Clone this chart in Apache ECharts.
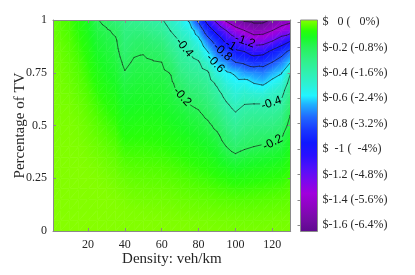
<!DOCTYPE html>
<html><head><meta charset="utf-8">
<script src="https://cdn.jsdelivr.net/npm/echarts@6/dist/echarts.min.js"></script>
<style>html,body{margin:0;padding:0;background:#fff}#c{width:415px;height:275px}</style>
</head><body><div id="c"></div>
<script>
// ---------------- data ----------------
const densities = [1,5,10,15,20,25,30,35,40,45,50,55,60,65,70,75,80,85,90,95,100,105,110,115,120,125,130];
const tvShares = [0,0.05,0.1,0.15,0.2,0.25,0.3,0.35,0.4,0.45,0.5,0.55,0.6,0.65,0.7,0.75,0.8,0.85,0.9,0.95,1];
// cost change ($) : one profile per density, listed over tvShares (0 -> 1)
const costColumns = [
 [0.014,0.014,0.013,0.013,0.012,0.012,0.012,0.011,0.011,0.010,0.010,0.009,0.008,0.007,0.006,0.004,0.002,0.000,-0.005,-0.010,-0.015],
 [0.014,0.014,0.013,0.013,0.012,0.012,0.012,0.011,0.010,0.009,0.008,0.006,0.004,0.002,0.000,-0.003,-0.007,-0.012,-0.018,-0.024,-0.030],
 [0.014,0.014,0.013,0.013,0.013,0.012,0.012,0.011,0.010,0.009,0.008,0.005,0.002,-0.003,-0.010,-0.015,-0.020,-0.027,-0.033,-0.040,-0.045],
 [0.014,0.014,0.013,0.013,0.013,0.013,0.013,0.010,0.008,0.005,0.002,-0.003,-0.010,-0.018,-0.025,-0.032,-0.040,-0.050,-0.060,-0.070,-0.080],
 [0.014,0.014,0.013,0.013,0.013,0.013,0.010,0.006,0.002,-0.004,-0.010,-0.018,-0.027,-0.036,-0.046,-0.056,-0.068,-0.080,-0.093,-0.107,-0.120],
 [0.014,0.014,0.013,0.013,0.013,0.010,0.006,0.000,-0.008,-0.017,-0.027,-0.038,-0.050,-0.063,-0.077,-0.092,-0.108,-0.126,-0.145,-0.168,-0.195],
 [0.014,0.013,0.013,0.013,0.010,0.005,-0.002,-0.010,-0.020,-0.031,-0.043,-0.056,-0.070,-0.085,-0.100,-0.116,-0.133,-0.151,-0.170,-0.190,-0.225],
 [0.013,0.013,0.013,0.010,0.005,-0.002,-0.010,-0.020,-0.032,-0.045,-0.058,-0.072,-0.087,-0.103,-0.120,-0.138,-0.157,-0.176,-0.190,-0.215,-0.270],
 [0.012,0.012,0.010,0.005,-0.002,-0.012,-0.025,-0.040,-0.056,-0.073,-0.090,-0.108,-0.127,-0.147,-0.168,-0.195,-0.220,-0.245,-0.265,-0.280,-0.300],
 [0.012,0.011,0.008,0.000,-0.008,-0.018,-0.030,-0.043,-0.057,-0.072,-0.088,-0.104,-0.120,-0.137,-0.154,-0.172,-0.190,-0.212,-0.240,-0.275,-0.320],
 [0.012,0.010,0.006,-0.002,-0.010,-0.020,-0.032,-0.045,-0.058,-0.072,-0.087,-0.102,-0.118,-0.134,-0.150,-0.168,-0.188,-0.205,-0.235,-0.280,-0.340],
 [0.012,0.010,0.005,-0.003,-0.012,-0.022,-0.034,-0.047,-0.060,-0.075,-0.090,-0.106,-0.122,-0.139,-0.157,-0.176,-0.195,-0.220,-0.260,-0.310,-0.370],
 [0.011,0.009,0.004,-0.004,-0.013,-0.024,-0.036,-0.050,-0.064,-0.079,-0.095,-0.110,-0.126,-0.143,-0.160,-0.180,-0.200,-0.235,-0.280,-0.335,-0.390],
 [0.010,0.008,0.003,-0.006,-0.016,-0.028,-0.041,-0.056,-0.072,-0.089,-0.107,-0.126,-0.145,-0.164,-0.184,-0.205,-0.250,-0.300,-0.350,-0.405,-0.460],
 [0.010,0.007,0.000,-0.010,-0.021,-0.034,-0.048,-0.064,-0.081,-0.100,-0.120,-0.142,-0.167,-0.200,-0.240,-0.285,-0.325,-0.365,-0.405,-0.460,-0.520],
 [0.009,0.006,-0.002,-0.013,-0.026,-0.040,-0.056,-0.073,-0.092,-0.113,-0.137,-0.166,-0.200,-0.240,-0.280,-0.320,-0.360,-0.400,-0.450,-0.520,-0.620],
 [0.008,0.004,-0.005,-0.017,-0.031,-0.047,-0.064,-0.083,-0.104,-0.127,-0.153,-0.183,-0.218,-0.260,-0.300,-0.345,-0.390,-0.460,-0.550,-0.680,-0.840],
 [0.007,0.003,-0.007,-0.020,-0.036,-0.054,-0.073,-0.095,-0.120,-0.148,-0.180,-0.220,-0.260,-0.300,-0.340,-0.385,-0.480,-0.600,-0.730,-0.900,-1.080],
 [0.006,0.001,-0.010,-0.025,-0.043,-0.064,-0.088,-0.115,-0.145,-0.180,-0.225,-0.270,-0.315,-0.360,-0.420,-0.520,-0.640,-0.750,-0.880,-1.060,-1.260],
 [0.005,0.000,-0.012,-0.028,-0.048,-0.072,-0.105,-0.150,-0.200,-0.245,-0.290,-0.335,-0.385,-0.440,-0.510,-0.580,-0.700,-0.840,-1.040,-1.200,-1.430],
 [0.004,-0.002,-0.015,-0.032,-0.055,-0.085,-0.125,-0.180,-0.240,-0.290,-0.335,-0.385,-0.440,-0.500,-0.555,-0.620,-0.800,-0.960,-1.130,-1.320,-1.550],
 [0.004,-0.003,-0.016,-0.033,-0.055,-0.082,-0.115,-0.160,-0.215,-0.260,-0.305,-0.350,-0.400,-0.470,-0.550,-0.680,-0.830,-1.000,-1.200,-1.400,-1.630],
 [0.004,-0.003,-0.016,-0.032,-0.052,-0.078,-0.108,-0.148,-0.200,-0.245,-0.290,-0.340,-0.395,-0.490,-0.600,-0.700,-0.880,-1.080,-1.280,-1.480,-1.650],
 [0.004,-0.003,-0.015,-0.030,-0.050,-0.075,-0.104,-0.140,-0.190,-0.240,-0.290,-0.340,-0.395,-0.500,-0.620,-0.720,-0.860,-1.060,-1.270,-1.470,-1.650],
 [0.004,-0.002,-0.014,-0.028,-0.047,-0.070,-0.098,-0.132,-0.180,-0.235,-0.285,-0.335,-0.390,-0.460,-0.560,-0.660,-0.800,-0.960,-1.200,-1.400,-1.580],
 [0.004,-0.001,-0.012,-0.025,-0.043,-0.065,-0.090,-0.120,-0.160,-0.210,-0.260,-0.310,-0.370,-0.430,-0.510,-0.610,-0.720,-0.870,-1.100,-1.320,-1.500],
 [0.005,0.000,-0.010,-0.020,-0.033,-0.048,-0.066,-0.087,-0.110,-0.135,-0.163,-0.195,-0.240,-0.290,-0.340,-0.400,-0.600,-0.750,-1.000,-1.280,-1.450]
];
const xTickValues = [20,40,60,80,100,120];
const yTickValues = [0,0.25,0.5,0.75,1];
const contourLevels = [-0.2,-0.4,-0.6,-0.8,-1,-1.2,-1.4,-1.6];
const colorbarTicks = [0,-0.2,-0.4,-0.6,-0.8,-1,-1.2,-1.4,-1.6];
const colorbarRange = [-1.65, 0.016];
// contour label anchors: [level, density, tv share]
const contourLabelAnchors = [
 [-0.2, 70.9, 0.635], [-0.2, 120.2, 0.42],
 [-0.4, 72.5, 0.872], [-0.4, 119.6, 0.607],
 [-0.6, 87.7, 0.787], [-0.8, 92.5, 0.844],
 [-1, 96.9, 0.872], [-1.2, 106, 0.915]
];

// ---------------- styling ----------------
const cmapStops = [
 [-1.65,'#5e0a8e'],[-1.55,'#760ca6'],[-1.45,'#8e04c2'],[-1.35,'#a000dc'],[-1.25,'#7a08ee'],
 [-1.15,'#5010fa'],[-1.05,'#2810ff'],[-0.95,'#1018ff'],[-0.85,'#1838ff'],[-0.75,'#2068ff'],
 [-0.65,'#20b0ff'],[-0.58,'#22f4ff'],[-0.5,'#2cf0d8'],[-0.4,'#30f0b0'],[-0.3,'#30f088'],
 [-0.2,'#28f25a'],[-0.12,'#18fb24'],[-0.07,'#28ff08'],[-0.035,'#50ff00'],[0,'#74ff00'],
 [0.016,'#88ff00']
];
const hex = h => [parseInt(h.slice(1,3),16),parseInt(h.slice(3,5),16),parseInt(h.slice(5,7),16)];
const cmapRGB = cmapStops.map(s => [s[0], hex(s[1])]);
function colorAt(v){
  if (v <= cmapRGB[0][0]) return 'rgb(' + cmapRGB[0][1].join(',') + ')';
  const n = cmapRGB.length;
  if (v >= cmapRGB[n-1][0]) return 'rgb(' + cmapRGB[n-1][1].join(',') + ')';
  for (let k = 0; k < n-1; k++){
    const a = cmapRGB[k], b = cmapRGB[k+1];
    if (v >= a[0] && v <= b[0]){
      const f = (v - a[0]) / (b[0] - a[0]);
      const c = a[1].map((x,i) => Math.round(x + f*(b[1][i]-x)));
      return 'rgb(' + c.join(',') + ')';
    }
  }
}
function triFill(p0,p1,p2,v0,v1,v2){
  const x1=p1[0]-p0[0], y1=p1[1]-p0[1], x2=p2[0]-p0[0], y2=p2[1]-p0[1];
  const d1=v1-v0, d2=v2-v0;
  const det = x1*y2 - y1*x2;
  const vmin=Math.min(v0,v1,v2), vmax=Math.max(v0,v1,v2);
  if (Math.abs(det) < 1e-9 || vmax - vmin < 1e-7) return colorAt((v0+v1+v2)/3);
  const a = (d1*y2 - y1*d2)/det, b = (x1*d2 - x2*d1)/det;
  const g2 = a*a + b*b;
  if (g2 < 1e-14) return colorAt(v0);
  const sx = p0[0] + (vmin-v0)*a/g2, sy = p0[1] + (vmin-v0)*b/g2;
  const ex = p0[0] + (vmax-v0)*a/g2, ey = p0[1] + (vmax-v0)*b/g2;
  const stops = [{offset:0, color:colorAt(vmin)}];
  for (const s of cmapStops){ if (s[0] > vmin && s[0] < vmax) stops.push({offset:(s[0]-vmin)/(vmax-vmin), color:s[1]}); }
  stops.push({offset:1, color:colorAt(vmax)});
  return new echarts.graphic.LinearGradient(sx, sy, ex, ey, stops, true);
}

// ---------------- grid cells & triangles ----------------
const V = (i,j) => costColumns[i][j];
const cells = [];
const tris = [];
for (let i = 0; i < densities.length-1; i++){
  for (let j = 0; j < tvShares.length-1; j++){
    cells.push([densities[i], densities[i+1], tvShares[j], tvShares[j+1], V(i,j), V(i+1,j), V(i,j+1), V(i+1,j+1)]);
    const A=[densities[i],tvShares[j],V(i,j)], B=[densities[i+1],tvShares[j],V(i+1,j)];
    const C=[densities[i+1],tvShares[j+1],V(i+1,j+1)], D=[densities[i],tvShares[j+1],V(i,j+1)];
    tris.push([A,B,C],[A,C,D]);
  }
}
// contour segments (marching triangles)
const segments = [];
for (const L of contourLevels){
  for (const t of tris){
    const pts = [];
    for (let k = 0; k < 3; k++){
      const P = t[k], Q = t[(k+1)%3];
      if ((P[2] >= L) !== (Q[2] >= L)){
        const f = (L - P[2]) / (Q[2] - P[2]);
        pts.push([P[0] + f*(Q[0]-P[0]), P[1] + f*(Q[1]-P[1])]);
      }
    }
    if (pts.length === 2) segments.push([pts[0][0],pts[0][1],pts[1][0],pts[1][1],L]);
  }
}
// label placement
const SX = 237.7/129, SY = 211;
const measureCtx = document.createElement('canvas').getContext('2d');
const labelFont = '12px "Liberation Sans"';
measureCtx.font = labelFont;
const placedLabels = contourLabelAnchors.map(([L,tx,ty]) => {
  let best = [tx,ty], bd = Infinity;
  for (const s of segments){
    if (s[4] !== L) continue;
    const ax=s[0]*SX, ay=s[1]*SY, bx=s[2]*SX, by=s[3]*SY, px=tx*SX, py=ty*SY;
    const dx=bx-ax, dy=by-ay, len2=dx*dx+dy*dy || 1e-9;
    let u=((px-ax)*dx+(py-ay)*dy)/len2; u=Math.max(0,Math.min(1,u));
    const cx=ax+u*dx, cy=ay+u*dy, d=(cx-px)*(cx-px)+(cy-py)*(cy-py);
    if (d < bd){ bd = d; best = [cx/SX, cy/SY]; }
  }
  let vx=0, vy=0, ref=null;
  for (const s of segments){
    if (s[4] !== L) continue;
    const mx=((s[0]+s[2])/2 - best[0])*SX, my=((s[1]+s[3])/2 - best[1])*SY;
    if (mx*mx + my*my < 13*13){
      let dx=(s[2]-s[0])*SX, dy=(s[3]-s[1])*SY;
      if (ref === null) ref=[dx,dy]; else if (dx*ref[0]+dy*ref[1] < 0){ dx=-dx; dy=-dy; }
      vx+=dx; vy+=dy;
    }
  }
  const text = String(L);
  return {L, x:best[0], y:best[1], dx:vx/SX, dy:vy/SY, text, r: measureCtx.measureText(text).width/2 + 1.5};
});

function cutPieces(P, Q, C, r, pieces){
  const dx=Q[0]-P[0], dy=Q[1]-P[1];
  const fx=P[0]-C[0], fy=P[1]-C[1];
  const a=dx*dx+dy*dy, b=2*(fx*dx+fy*dy), c=fx*fx+fy*fy-r*r;
  const disc=b*b-4*a*c;
  if (a < 1e-12 || disc <= 0) return pieces;
  const sq=Math.sqrt(disc), t1=(-b-sq)/(2*a), t2=(-b+sq)/(2*a);
  const out=[];
  for (const [s0,s1] of pieces){
    if (t2 <= s0 || t1 >= s1){ out.push([s0,s1]); continue; }
    if (t1 > s0) out.push([s0, t1]);
    if (t2 < s1) out.push([t2, s1]);
  }
  return out;
}

const axisGray = '#8a8a8a';
const textColor = '#262626';
const serif = 'Liberation Serif';
const fmt = v => String(parseFloat(v.toFixed(2)));

const chart = echarts.init(document.getElementById('c'), null, {renderer:'canvas'});
chart.setOption({
  animation: false,
  backgroundColor: '#fff',
  textStyle: {fontFamily: serif},
  grid: [
    {left:53, top:20, width:237.7, height:211, containLabel:false, outerBoundsMode:'none'},
    {left:300.5, top:20, width:17, height:211.5, containLabel:false, outerBoundsMode:'none'}
  ],
  xAxis: [
    {gridIndex:0, type:'value', min:1, max:130, position:'bottom', z:10,
     axisLine:{show:true, onZero:false, lineStyle:{color:axisGray, width:1}},
     axisTick:{show:true, inside:true, length:3, customValues:xTickValues, lineStyle:{color:axisGray}},
     axisLabel:{customValues:xTickValues, margin:8, color:textColor, fontFamily:serif, fontSize:12},
     splitLine:{show:false},
     name:'Density: veh/km', nameLocation:'middle', nameGap:21, nameMoveOverlap:false,
     nameTextStyle:{color:textColor, fontFamily:serif, fontSize:15}},
    {gridIndex:0, type:'value', min:1, max:130, position:'top', z:10,
     axisLine:{show:true, onZero:false, lineStyle:{color:axisGray, width:1}},
     axisTick:{show:true, inside:true, length:3, customValues:xTickValues, lineStyle:{color:axisGray}},
     axisLabel:{show:false}, splitLine:{show:false}},
    {gridIndex:1, type:'value', min:0, max:1, show:false}
  ],
  yAxis: [
    {gridIndex:0, type:'value', min:0, max:1, interval:0.25, position:'left', z:10,
     axisLine:{show:true, onZero:false, lineStyle:{color:axisGray, width:1}},
     axisTick:{show:true, inside:true, length:3, lineStyle:{color:axisGray}},
     axisLabel:{margin:6, color:textColor, fontFamily:serif, fontSize:12},
     splitLine:{show:false},
     name:'Percentage of TV', nameLocation:'middle', nameGap:25, nameRotate:90, nameMoveOverlap:false,
     nameTextStyle:{color:textColor, fontFamily:serif, fontSize:15}},
    {gridIndex:0, type:'value', min:0, max:1, interval:0.25, position:'right', z:10,
     axisLine:{show:true, onZero:false, lineStyle:{color:axisGray, width:1}},
     axisTick:{show:true, inside:true, length:3, lineStyle:{color:axisGray}},
     axisLabel:{show:false}, splitLine:{show:false}},
    {gridIndex:1, type:'value', min:colorbarRange[0], max:colorbarRange[1], position:'right', z:10,
     axisLine:{show:false},
     axisTick:{show:true, inside:true, length:3, customValues:colorbarTicks, lineStyle:{color:axisGray}},
     axisLabel:{customValues:colorbarTicks, margin:5, color:textColor, fontFamily:serif, fontSize:12,
       formatter: v => '$' + fmt(v).padStart(4,' ') + ' (' + fmt(v*4).padStart(4,' ') + '%)'},
     splitLine:{show:false}}
  ],
  series: [
    {type:'custom', name:'surface', xAxisIndex:0, yAxisIndex:0, clip:true, z:1, silent:true,
     encode:{x:[0,1], y:[2,3]},
     data: cells,
     renderItem: (params, api) => {
       const c = cells[params.dataIndex];
       const p00=api.coord([c[0],c[2]]), p10=api.coord([c[1],c[2]]), p01=api.coord([c[0],c[3]]), p11=api.coord([c[1],c[3]]);
       const f1 = triFill(p00,p10,p11,c[4],c[5],c[7]);
       const f2 = triFill(p00,p11,p01,c[4],c[7],c[6]);
       return {type:'group', children:[
         {type:'polygon', shape:{points:[p00,p10,p11]}, style:{fill:f1, stroke:f1, lineWidth:0.6}},
         {type:'polygon', shape:{points:[p00,p11,p01]}, style:{fill:f2, stroke:f2, lineWidth:0.6}}
       ]};
     }},
    {type:'custom', name:'contours', xAxisIndex:0, yAxisIndex:0, clip:true, z:3, silent:true,
     encode:{x:[0,2], y:[1,3]},
     data: segments,
     renderItem: (params, api) => {
       const s = segments[params.dataIndex];
       const P=api.coord([s[0],s[1]]), Q=api.coord([s[2],s[3]]);
       let pieces=[[0,1]];
       for (const lab of placedLabels){
         if (lab.L !== s[4]) continue;
         pieces = cutPieces(P, Q, api.coord([lab.x, lab.y]), lab.r, pieces);
       }
       const dx=Q[0]-P[0], dy=Q[1]-P[1];
       return {type:'group', children: pieces.map(([t0,t1]) => ({type:'line',
         shape:{x1:P[0]+t0*dx, y1:P[1]+t0*dy, x2:P[0]+t1*dx, y2:P[1]+t1*dy},
         style:{stroke:'#111', lineWidth:0.6, lineCap:'round'}}))};
     }},
    {type:'custom', name:'contourLabels', xAxisIndex:0, yAxisIndex:0, clip:false, z:4, silent:true,
     encode:{x:0, y:1},
     data: placedLabels.map(l => [l.x, l.y]),
     renderItem: (params, api) => {
       const l = placedLabels[params.dataIndex];
       const p = api.coord([l.x, l.y]);
       const q = api.coord([l.x + l.dx*0.01, l.y + l.dy*0.01]);
       let ang = Math.atan2(-(q[1]-p[1]), q[0]-p[0]);
       if (ang > Math.PI/2) ang -= Math.PI;
       if (ang < -Math.PI/2) ang += Math.PI;
       return {type:'text', x:p[0], y:p[1], rotation:ang,
         style:{text:l.text, fill:'#000', font:labelFont, align:'center', verticalAlign:'middle'}};
     }},
    {type:'custom', name:'colorbar', xAxisIndex:2, yAxisIndex:2, clip:false, z:1, silent:true,
     data: [[0, colorbarRange[0]]],
     renderItem: (params, api) => {
       const top = api.coord([0, colorbarRange[1]]), bot = api.coord([1, colorbarRange[0]]);
       const span = colorbarRange[1]-colorbarRange[0];
       const stops = cmapStops.map(s => ({offset: Math.max(0, Math.min(1, (s[0]-colorbarRange[0])/span)), color:s[1]}));
       const grad = new echarts.graphic.LinearGradient(0, bot[1], 0, top[1], stops, true);
       return {type:'rect', shape:{x:top[0], y:top[1], width:bot[0]-top[0], height:bot[1]-top[1]},
         style:{fill:grad, stroke:axisGray, lineWidth:1}};
     }}
  ]
});
</script>
</body></html>
